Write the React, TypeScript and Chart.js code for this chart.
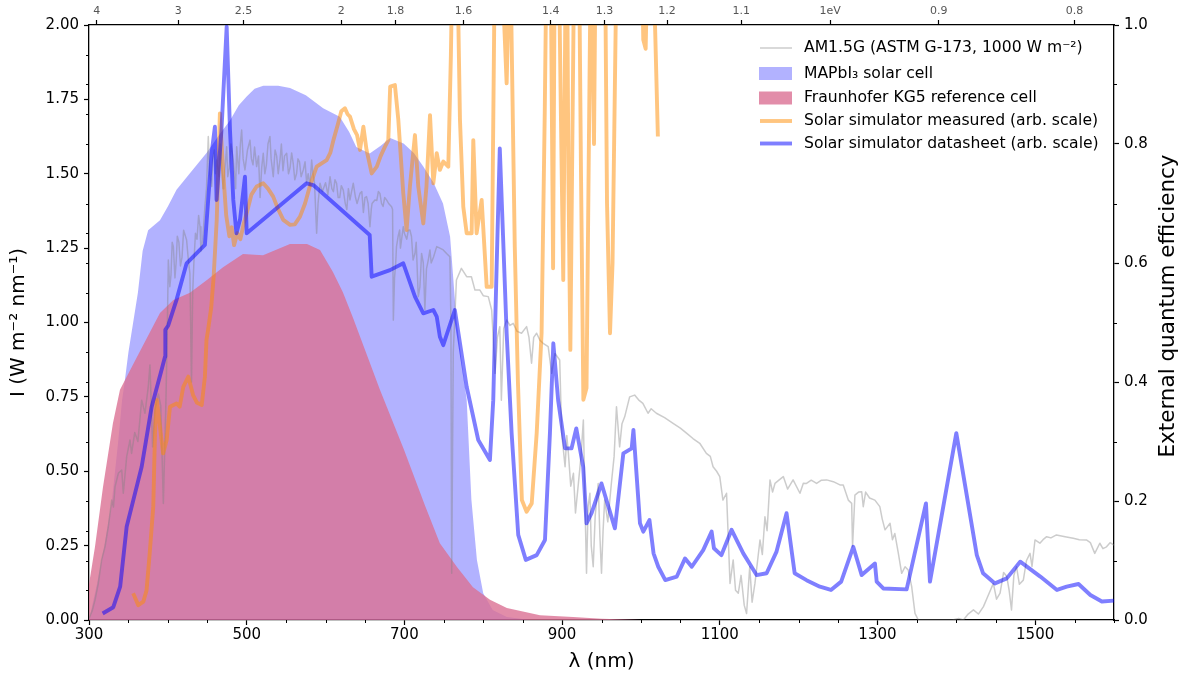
import React, { useEffect, useRef } from 'react';
import { Chart, registerables } from 'chart.js';

Chart.register(...registerables);

// ---------------- data ----------------
const am15Wavelength = [
  300, 304, 307.6, 311.8, 316, 320.3, 324.5, 328.8, 331, 333, 337.2, 341.5, 343.5, 347.8, 352, 354, 358, 362, 366.8, 371,
  375, 377.3, 380.7, 383.7, 388, 391, 394.3, 397.6, 399.3,
  400.6, 402.5, 404, 405.5, 407, 409, 410.5, 412, 414, 416, 418, 420, 423.8, 426, 428, 430, 431.5, 433, 435, 437,
  439, 440.8, 442, 444, 447, 449, 451.3, 453, 455.6, 457, 459, 460.5, 462, 465, 466.5, 468.2, 470, 471, 474.6, 476,
  478, 480, 483, 486, 487.3, 490, 492, 493.6, 495.5, 497.8, 501, 504.2, 506, 508, 510, 512.6, 515, 517, 519, 521,
  523, 525, 527, 529.5, 531, 533.7, 536, 538, 540, 542.2, 544, 546, 548, 550.7, 553, 555, 557, 559, 561, 563.3,
  565, 567, 569, 571.8, 574, 576, 578, 580.3, 582.4, 584, 586, 588.7, 590.5, 593, 596, 600, 603, 605.7, 608, 610,
  612, 614, 616, 618, 620, 622.5, 625, 627, 629, 631, 633, 635.2, 638, 640, 643.7, 646, 648, 650, 652, 654,
  656.3, 658, 659, 662.6, 665, 667, 669, 671, 673, 675, 677.4, 680, 683.8, 685, 686, 687.5, 689, 690, 692, 694,
  695, 698.6, 700, 703, 705, 707, 709, 711, 713.4, 715, 717.6, 719.7, 721.8, 724, 726, 728, 730.3, 732.4, 734, 737,
  741, 745, 749.3, 753.5, 757.7, 759, 760, 762, 766, 772.3, 779, 785, 789.5, 795.8, 800, 806.4, 810.7, 812.8, 815, 818,
  821, 823, 826, 829.7, 834, 838, 843, 848.6, 855, 858, 861.3, 864, 867.7, 872, 876, 882.4, 886.8, 891, 897, 899.5,
  903.8, 906, 908, 911, 914.4, 917, 920.7, 924, 927, 929, 931, 933, 935.3, 937, 939.5, 942, 945.8, 948, 950, 952,
  954, 958, 962.5, 966, 969, 973, 976, 979.4, 985.7, 992, 997, 1002.5, 1009, 1013, 1019.6, 1030, 1040.8, 1050, 1057.8, 1066,
  1074.6, 1083, 1088, 1091.5, 1096, 1100, 1104, 1108.6, 1113, 1117, 1120, 1123.5, 1127, 1131, 1134, 1138, 1141, 1144.6, 1148, 1151,
  1154, 1157.3, 1160, 1163.7, 1167, 1170, 1175, 1180.6, 1186, 1193, 1201.7, 1206, 1210, 1216, 1222.8, 1229, 1235.5, 1244, 1252.4, 1256.6,
  1263, 1267.3, 1268.4, 1271.4, 1276, 1280, 1282, 1285, 1290, 1296.7, 1303, 1306, 1309.6, 1316, 1319, 1322, 1326.5, 1330.7, 1335, 1339,
  1343.4, 1347.6, 1351.8, 1360, 1380, 1395, 1403, 1409, 1415, 1421.7, 1428, 1434.4, 1440, 1447, 1451, 1455.5, 1460, 1464, 1467, 1470,
  1473, 1476.4, 1480, 1485, 1489, 1493.5, 1496, 1499.8, 1506, 1510, 1514.6, 1520, 1527, 1538, 1548.3, 1556, 1565, 1570, 1575.6, 1582,
  1586, 1590.5, 1595, 1600,
];
const am15Irradiance = [
  0.005, 0.03, 0.067, 0.123, 0.202, 0.246, 0.314, 0.403, 0.38, 0.448, 0.493, 0.504, 0.426, 0.549, 0.605, 0.56, 0.63, 0.6, 0.739, 0.695,
  0.78, 0.857, 0.582, 0.706, 0.76, 0.72, 0.392, 0.739, 0.975,
  1.21, 1.12, 1.16, 1.27, 1.255, 1.15, 1.2, 1.29, 1.27, 1.19, 1.22, 1.31, 1.277, 1.21, 1.165, 0.8, 1.1, 1.2, 1.3, 1.28,
  1.36, 1.322, 1.24, 1.27, 1.389, 1.45, 1.625, 1.5, 1.457, 1.55, 1.58, 1.5, 1.546, 1.49, 1.6, 1.535, 1.45, 1.47, 1.591, 1.49,
  1.52, 1.6, 1.546, 1.45, 1.591, 1.5, 1.6, 1.647, 1.55, 1.513, 1.58, 1.613, 1.55, 1.53, 1.59, 1.524, 1.56, 1.42, 1.52, 1.569,
  1.5, 1.53, 1.6, 1.625, 1.55, 1.49, 1.58, 1.56, 1.5, 1.546, 1.6, 1.51, 1.56, 1.569, 1.5, 1.52, 1.57, 1.535, 1.48, 1.501,
  1.55, 1.54, 1.49, 1.513, 1.54, 1.47, 1.5, 1.457, 1.546, 1.5, 1.47, 1.3, 1.4, 1.468, 1.44, 1.47, 1.43, 1.49, 1.45, 1.44,
  1.48, 1.468, 1.42, 1.42, 1.46, 1.445, 1.4, 1.38, 1.45, 1.412, 1.44, 1.468, 1.42, 1.4, 1.434, 1.44, 1.37, 1.42, 1.423, 1.4,
  1.322, 1.38, 1.4, 1.412, 1.41, 1.44, 1.434, 1.4, 1.39, 1.42, 1.412, 1.4, 1.389, 1.38, 1.008, 1.15, 1.2, 1.255, 1.289, 1.311,
  1.25, 1.322, 1.3, 1.28, 1.31, 1.311, 1.289, 1.21, 1.232, 1.27, 1.087, 1.12, 1.232, 1.2, 1.042, 1.18, 1.21, 1.244, 1.2, 1.22,
  1.255, 1.25, 1.244, 1.232, 1.221, 1.008, 0.157, 0.9, 1.143, 1.182, 1.154, 1.154, 1.109, 1.109, 1.09, 1.087, 1.042, 0.941, 0.829, 0.95,
  0.986, 0.739, 0.98, 1.008, 0.99, 0.997, 0.97, 0.964, 0.986, 0.95, 0.863, 0.95, 0.964, 0.94, 0.93, 0.919, 0.829, 0.896, 0.874, 0.628,
  0.515, 0.62, 0.56, 0.45, 0.493, 0.36, 0.459, 0.55, 0.672, 0.4, 0.157, 0.38, 0.426, 0.25, 0.179, 0.35, 0.459, 0.28, 0.157, 0.3,
  0.403, 0.33, 0.459, 0.55, 0.717, 0.582, 0.66, 0.683, 0.75, 0.756, 0.74, 0.728, 0.695, 0.71, 0.695, 0.68, 0.661, 0.645, 0.628, 0.61,
  0.594, 0.56, 0.55, 0.515, 0.5, 0.482, 0.403, 0.426, 0.123, 0.202, 0.1, 0.09, 0.15, 0.05, 0.022, 0.179, 0.06, 0.123, 0.2, 0.269,
  0.22, 0.347, 0.3, 0.471, 0.43, 0.459, 0.47, 0.482, 0.44, 0.471, 0.426, 0.46, 0.459, 0.47, 0.459, 0.47, 0.471, 0.465, 0.454, 0.454,
  0.403, 0.392, 0.246, 0.42, 0.43, 0.431, 0.381, 0.43, 0.41, 0.403, 0.381, 0.34, 0.303, 0.325, 0.27, 0.291, 0.224, 0.157, 0.179, 0.168,
  0.112, 0.022, 0.0, 0.0, 0.0, 0.0, 0.005, 0.0, 0.02, 0.034, 0.02, 0.045, 0.08, 0.123, 0.07, 0.09, 0.16, 0.146, 0.1, 0.034,
  0.15, 0.179, 0.12, 0.134, 0.2, 0.224, 0.18, 0.269, 0.258, 0.27, 0.28, 0.276, 0.286, 0.28, 0.275, 0.27, 0.269, 0.26, 0.224, 0.258,
  0.24, 0.246, 0.26, 0.252,
];

const measuredWavelength = [
  356, 362.5, 369, 373, 377, 381.5, 383.7, 386, 390, 394, 398.5, 402.7, 411, 415, 419.6, 426, 432, 437, 443, 447,
  449, 451, 455, 458, 462, 466, 470, 474, 478, 481, 484, 488, 492, 496, 500, 506, 512.6, 521, 527, 533.6,
  540, 546.4, 555, 561, 567.6, 574, 580, 588.7, 595, 601.4, 606, 610, 616, 620, 624.6, 628, 631, 636, 640, 643.7,
  648, 652, 658.5, 665, 670, 675.4, 679.6, 682, 688, 692.3, 698.6, 702.8, 707, 713.4, 717.6, 724, 728, 732.5, 736.7, 741,
  745, 749.4, 755.7, 759, 762, 766, 770.5, 774.7, 779, 785.3, 787.4, 791.6, 798, 804.4, 810.7, 815, 822, 829.7, 834, 840,
  844, 849, 855, 861.5, 867.8, 874, 878, 881, 885, 888.6, 891, 895, 899, 901.5, 904, 906, 908, 910.5, 913, 916,
  921, 924, 927, 931, 934, 937, 939, 940.5, 943, 954, 957, 960.8, 964, 968, 973, 1000, 1003, 1006, 1009, 1015,
  1021.5,
];
const measuredIntensity = [
  0.09, 0.05, 0.062, 0.1, 0.225, 0.381, 0.628, 0.74, 0.65, 0.56, 0.605, 0.717, 0.728, 0.717, 0.784, 0.818, 0.756, 0.73, 0.723, 0.818,
  0.941, 0.975, 1.05, 1.15, 1.345, 1.703, 1.513, 1.36, 1.29, 1.32, 1.26, 1.3, 1.28, 1.33, 1.367, 1.43, 1.457, 1.468, 1.45, 1.423,
  1.38, 1.345, 1.328, 1.33, 1.356, 1.4, 1.457, 1.524, 1.535, 1.546, 1.57, 1.613, 1.67, 1.71, 1.72, 1.7, 1.692, 1.65, 1.63, 1.58,
  1.658, 1.58, 1.501, 1.524, 1.56, 1.591, 1.613, 1.793, 1.798, 1.681, 1.434, 1.311, 1.457, 1.63, 1.457, 1.333, 1.457, 1.697, 1.468, 1.569,
  1.513, 1.541, 1.524, 1.9, 2.4, 2.4, 1.681, 1.389, 1.3, 1.3, 1.613, 1.3, 1.412, 1.12, 1.12, 2.3, 2.3, 1.804, 2.3, 1.255,
  0.8, 0.403, 0.364, 0.392, 0.628, 0.964, 1.7, 2.4, 2.4, 1.182, 2.4, 2.4, 1.6, 1.143, 2.0, 2.4, 1.5, 0.908, 1.6, 2.4,
  2.4, 1.5, 0.74, 0.78, 1.6, 2.4, 1.9, 1.6, 2.4, 2.4, 1.4, 0.964, 1.2, 2.0, 2.4, 2.4, 1.95, 1.92, 2.3, 2.3,
  1.625,
];

const datasheetWavelength = [
  317.3, 330.8, 339.5, 347.8, 356.2, 366.8, 379.5, 392, 396.4, 396.8, 400.5, 411, 423.8, 447, 455.5, 459.7, 461.8, 468, 474.6, 478.8,
  483, 487, 491.5, 497.8, 500, 576, 584.5, 656, 658.5, 681.7, 698.6, 713.4, 724, 736.7, 741, 745, 749.3, 764, 779, 793.7,
  808.5, 812.7, 817, 821, 829.7, 836, 844.4, 854, 867.8, 878.3, 884.6, 888.9, 895, 903.8, 912, 918, 926.8, 931, 937.4, 950,
  967, 977.7, 988.3, 990.5, 998.8, 1003, 1010.8, 1016, 1022, 1030.9, 1045.5, 1056, 1064.5, 1079, 1089.7, 1092.6, 1102, 1115, 1129.8, 1146.7,
  1159.4, 1172, 1184.7, 1195, 1210, 1227, 1241, 1254, 1269.3, 1280, 1296.8, 1299, 1307.4, 1337, 1361.5, 1366.6, 1400, 1426, 1434, 1449,
  1464, 1481, 1506.5, 1527.7, 1540, 1555, 1570, 1584.6, 1600,
];
const datasheetIntensity = [
  0.022, 0.043, 0.112, 0.314, 0.403, 0.515, 0.717, 0.84, 0.885, 0.975, 0.99, 1.076, 1.199, 1.261, 1.569, 1.658, 1.412, 1.647, 1.994, 1.647,
  1.412, 1.3, 1.345, 1.49, 1.3, 1.468, 1.462, 1.294, 1.154, 1.176, 1.199, 1.087, 1.031, 1.042, 1.02, 0.952, 0.924, 1.042, 0.784, 0.605,
  0.538, 0.739, 1.188, 1.585, 0.964, 0.628, 0.286, 0.202, 0.218, 0.269, 0.628, 0.93, 0.739, 0.577, 0.577, 0.644, 0.515, 0.325, 0.359, 0.459,
  0.308, 0.56, 0.577, 0.639, 0.325, 0.297, 0.336, 0.224, 0.179, 0.134, 0.146, 0.207, 0.179, 0.235, 0.297, 0.241, 0.218, 0.303, 0.224, 0.151,
  0.157, 0.23, 0.359, 0.157, 0.134, 0.112, 0.101, 0.129, 0.246, 0.151, 0.19, 0.129, 0.106, 0.103, 0.392, 0.129, 0.628, 0.218, 0.157, 0.123,
  0.14, 0.196, 0.146, 0.101, 0.112, 0.121, 0.084, 0.062, 0.065,
];

const mapbi3Wavelength = [
  300, 310, 320, 329, 337, 342, 345, 350, 356, 362, 368, 375, 390, 400, 411, 428, 449, 465, 479, 490,
  500, 510, 521, 540, 555, 575, 597, 618, 630, 639, 656, 670, 682, 699, 712, 724, 737, 749, 758, 766,
  773, 779, 785, 792, 800, 812, 830, 860,
];
const mapbi3Eqe = [
  0.0, 0.06, 0.13, 0.2, 0.3, 0.37, 0.398, 0.45, 0.5, 0.55, 0.62, 0.655, 0.672, 0.695, 0.723, 0.751, 0.785, 0.815, 0.84, 0.865,
  0.88, 0.893, 0.898, 0.898, 0.894, 0.882, 0.86, 0.846, 0.82, 0.795, 0.784, 0.797, 0.81, 0.801, 0.785, 0.762, 0.735, 0.7, 0.644, 0.504,
  0.43, 0.37, 0.202, 0.101, 0.045, 0.017, 0.005, 0.0,
];

const kg5Wavelength = [
  300, 307.6, 317.8, 330.4, 339.3, 360, 390, 407, 428, 450, 470, 495.3, 520.7, 554.9, 576.5, 593, 609.4, 622, 634.8, 669,
  699.5, 726, 745, 766.7, 787, 808.6, 830, 872, 914, 950, 1000,
];
const kg5Eqe = [
  0.06, 0.123, 0.224, 0.331, 0.387, 0.44, 0.516, 0.538, 0.55, 0.572, 0.593, 0.615, 0.613, 0.632, 0.632, 0.622, 0.585, 0.551, 0.508, 0.387,
  0.286, 0.193, 0.129, 0.089, 0.055, 0.034, 0.02, 0.008, 0.005, 0.002, 0.0,
];

// ---------------- ticks ----------------
const wavelengthTicks = [300, 500, 700, 900, 1100, 1300, 1500];
const wavelengthMinorTicks = [350, 400, 450, 550, 600, 650, 750, 800, 850, 950, 1000, 1050, 1150, 1200, 1250, 1350, 1400, 1450, 1550, 1600];
const irradianceTicks = [0, 0.25, 0.5, 0.75, 1.0, 1.25, 1.5, 1.75, 2.0];
const irradianceMinorTicks = [0.1, 0.2, 0.3, 0.4, 0.6, 0.7, 0.8, 0.9, 1.1, 1.2, 1.3, 1.4, 1.6, 1.7, 1.8, 1.9];
const eqeTicks = [0, 0.2, 0.4, 0.6, 0.8, 1.0];
const eqeMinorTicks = [0.1, 0.3, 0.5, 0.7, 0.9];
const photonEnergyTicks = [4, 3, 2.5, 2, 1.8, 1.6, 1.4, 1.3, 1.2, 1.1, 1, 0.9, 0.8];
const photonEnergyLabels = ['4', '3', '2.5', '2', '1.8', '1.6', '1.4', '1.3', '1.2', '1.1', '1eV', '0.9', '0.8'];
const HC_EV_NM = 1239.84;

const FONT = "'DejaVu Sans', sans-serif";

const COLORS = {
  am15: 'rgba(128,128,128,0.4)',
  mapbi3: 'rgba(0,0,255,0.3)',
  kg5: 'rgba(219,112,147,0.8)',
  measured: 'rgba(255,140,0,0.5)',
  datasheet: 'rgba(0,0,255,0.5)',
};

const zip = (xs: number[], ys: number[]) => xs.map((x, i) => ({ x, y: ys[i] }));

const extrasPlugin = {
  id: 'extras',
  afterDraw(chart: any) {
    const { ctx, chartArea: a, scales } = chart;
    ctx.save();
    // minor ticks
    ctx.strokeStyle = '#000';
    ctx.lineWidth = 1;
    ctx.beginPath();
    for (const v of wavelengthMinorTicks) {
      const px = Math.round(scales.x.getPixelForValue(v)) + 0.5;
      ctx.moveTo(px, a.bottom);
      ctx.lineTo(px, a.bottom + 3);
    }
    for (const v of irradianceMinorTicks) {
      const py = Math.round(scales.y.getPixelForValue(v)) + 0.5;
      ctx.moveTo(a.left - 3, py);
      ctx.lineTo(a.left, py);
    }
    for (const v of eqeMinorTicks) {
      const py = Math.round(scales.y2.getPixelForValue(v)) + 0.5;
      ctx.moveTo(a.right, py);
      ctx.lineTo(a.right + 3, py);
    }
    ctx.stroke();

    // right axis title (reads bottom-to-top like matplotlib)
    ctx.fillStyle = '#000';
    ctx.font = `21.5px ${FONT}`;
    ctx.textAlign = 'center';
    ctx.textBaseline = 'middle';
    ctx.translate(1168, 306);
    ctx.rotate(-Math.PI / 2);
    ctx.fillText('External quantum efficiency', 0, 0);
    ctx.restore();

    // legend
    ctx.save();
    const hx0 = 760, hx1 = 792, tx = 804;
    ctx.font = `15.6px ${FONT}`;
    ctx.textAlign = 'left';
    ctx.textBaseline = 'middle';
    ctx.fillStyle = '#000';
    const rows = [
      { y: 48, kind: 'line', color: COLORS.am15, w: 1.5, text: 'AM1.5G (ASTM G-173, 1000 W m⁻²)' },
      { y: 73.5, kind: 'rect', color: COLORS.mapbi3, text: 'MAPbI₃ solar cell' },
      { y: 98, kind: 'rect', color: COLORS.kg5, text: 'Fraunhofer KG5 reference cell' },
      { y: 121, kind: 'line', color: COLORS.measured, w: 3.9, text: 'Solar simulator measured (arb. scale)' },
      { y: 143.5, kind: 'line', color: COLORS.datasheet, w: 3.9, text: 'Solar simulator datasheet (arb. scale)' },
    ];
    for (const r of rows) {
      if (r.kind === 'line') {
        ctx.strokeStyle = r.color;
        ctx.lineWidth = r.w as number;
        ctx.beginPath();
        ctx.moveTo(hx0, r.y);
        ctx.lineTo(hx1, r.y);
        ctx.stroke();
      } else {
        ctx.fillStyle = r.color;
        ctx.fillRect(hx0 - 1, r.y - 6.5, hx1 - hx0 + 1, 13);
      }
      ctx.fillStyle = '#000';
      ctx.fillText(r.text, tx, r.y);
    }
    ctx.restore();
  },
};

export default function App() {
  const ref = useRef<HTMLCanvasElement>(null);

  useEffect(() => {
    if (!ref.current) return;
    Chart.defaults.font.family = FONT;
    const lineBase = { pointRadius: 0, tension: 0, fill: false, borderJoinStyle: 'round', borderCapStyle: 'butt', clip: 0, xAxisID: 'x' };
    const chart = new Chart(ref.current, {
      type: 'line',
      data: {
        datasets: [
          { ...lineBase, label: 'Solar simulator datasheet (arb. scale)', data: zip(datasheetWavelength, datasheetIntensity), borderColor: COLORS.datasheet, borderWidth: 3.9, yAxisID: 'y', order: 0 },
          { ...lineBase, label: 'Solar simulator measured (arb. scale)', data: zip(measuredWavelength, measuredIntensity), borderColor: COLORS.measured, borderWidth: 3.9, yAxisID: 'y', order: 1 },
          { ...lineBase, label: 'AM1.5G (ASTM G-173, 1000 W m⁻²)', data: zip(am15Wavelength, am15Irradiance), borderColor: COLORS.am15, borderWidth: 1.5, yAxisID: 'y', order: 2 },
          { ...lineBase, label: 'Fraunhofer KG5 reference cell', data: zip(kg5Wavelength, kg5Eqe), borderWidth: 0, backgroundColor: COLORS.kg5, fill: 'origin', yAxisID: 'y2', order: 3 },
          { ...lineBase, label: 'MAPbI₃ solar cell', data: zip(mapbi3Wavelength, mapbi3Eqe), borderWidth: 0, backgroundColor: COLORS.mapbi3, fill: 'origin', yAxisID: 'y2', order: 4 },
        ] as any,
      },
      options: {
        responsive: false,
        animation: false,
        devicePixelRatio: 1,
        layout: { padding: 0 },
        plugins: { legend: { display: false }, tooltip: { enabled: false } },
        scales: {
          x: {
            type: 'linear', position: 'bottom', min: 300, max: 1600,
            afterBuildTicks: (s: any) => { s.ticks = wavelengthTicks.map((v) => ({ value: v })); },
            afterFit: (s: any) => { s.height = 60; },
            ticks: { autoSkip: false, maxRotation: 0, padding: 1, color: '#000', font: { size: 15 }, callback: (v: any) => String(v) },
            grid: { drawOnChartArea: false, drawTicks: true, tickLength: 5, tickColor: '#000', tickWidth: 1.2 },
            border: { display: true, color: '#000', width: 1.3 },
            title: { display: true, text: 'λ (nm)', color: '#000', font: { size: 20 }, padding: { top: 0, bottom: 6 } },
          },
          xTop: {
            type: 'linear', position: 'top', min: 300, max: 1600,
            afterBuildTicks: (s: any) => { s.ticks = photonEnergyTicks.map((e) => ({ value: HC_EV_NM / e })); },
            afterFit: (s: any) => { s.height = 25; },
            ticks: { autoSkip: false, maxRotation: 0, padding: 2, color: '#555', font: { size: 11 }, callback: (_v: any, i: number) => photonEnergyLabels[i] },
            grid: { drawOnChartArea: false, drawTicks: true, tickLength: 5, tickColor: '#000', tickWidth: 1.2 },
            border: { display: true, color: '#000', width: 1.3 },
          },
          y: {
            type: 'linear', position: 'left', min: 0, max: 2,
            afterBuildTicks: (s: any) => { s.ticks = irradianceTicks.map((v) => ({ value: v })); },
            afterFit: (s: any) => { s.width = 89; },
            ticks: { autoSkip: false, padding: 5, color: '#000', font: { size: 15 }, callback: (v: any) => Number(v).toFixed(2) },
            grid: { drawOnChartArea: false, drawTicks: true, tickLength: 5, tickColor: '#000', tickWidth: 1.2 },
            border: { display: true, color: '#000', width: 1.3 },
            title: { display: true, text: 'I (W m⁻² nm⁻¹)', color: '#000', font: { size: 20 }, padding: { top: 7, bottom: 0 } },
          },
          y2: {
            type: 'linear', position: 'right', min: 0, max: 1,
            afterBuildTicks: (s: any) => { s.ticks = eqeTicks.map((v) => ({ value: v })); },
            afterFit: (s: any) => { s.width = 77; },
            ticks: { autoSkip: false, padding: 5, color: '#000', font: { size: 15 }, callback: (v: any) => Number(v).toFixed(1) },
            grid: { drawOnChartArea: false, drawTicks: true, tickLength: 5, tickColor: '#000', tickWidth: 1.2 },
            border: { display: true, color: '#000', width: 1.3 },
          },
        } as any,
      },
      plugins: [extrasPlugin],
    });
    return () => chart.destroy();
  }, []);

  return (
    <div style={{ position: 'absolute', left: 0, top: 0, width: 1191, height: 680, background: '#fff' }}>
      <canvas ref={ref} width={1191} height={680} style={{ display: 'block' }} />
    </div>
  );
}
